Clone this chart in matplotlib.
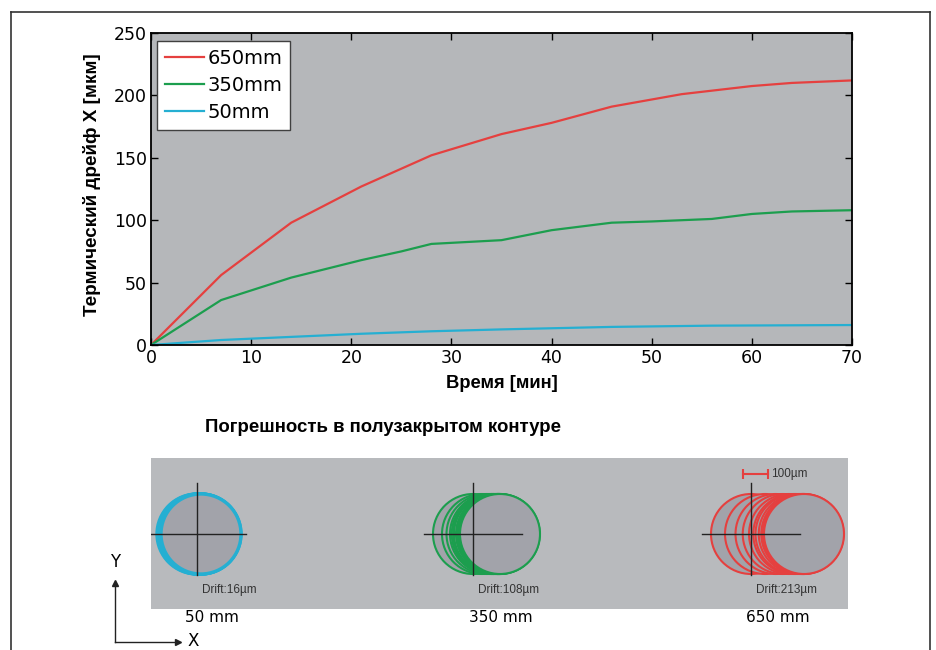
import matplotlib.pyplot as plt
from matplotlib.patches import Circle
from matplotlib.lines import Line2D

plt.rcParams['font.family'] = ['DejaVu Sans']

# drift curves (time in minutes, drift in um)
t_650 = [0, 7, 14, 21, 28, 35, 40, 46, 53, 60, 64, 70]
d_650 = [0, 56, 98, 127, 152, 169, 178, 191, 201, 207.5, 210, 212]
t_350 = [0, 7, 14, 21, 25, 28, 35, 40, 46, 50, 56, 60, 64, 70]
d_350 = [0, 36, 54, 68, 75, 81, 84, 92, 98, 99, 101, 105, 107, 108]
t_50 = [0, 7, 14, 21, 28, 35, 46, 56, 70]
d_50 = [0, 4, 6.5, 9, 11, 12.5, 14.5, 15.5, 16]

series_labels = ['650mm', '350mm', '50mm']
colors = ['#e5403f', '#1c9e4e', '#25afd2']

# lower panel
group_names = ['50 mm', '350 mm', '650 mm']
drift_text = [16, 108, 213]

W, H = 937, 650
fig = plt.figure(figsize=(W / 100, H / 100), dpi=100)

arial = ['Liberation Sans', 'DejaVu Sans']

def box(l, t, r, b):
    return [l / W, 1 - b / H, (r - l) / W, (b - t) / H]

# outer frame
for xs, ys in [([11, 11], [12, 660]), ([11, 930], [12, 12]), ([930, 930], [12, 660])]:
    fig.add_artist(Line2D([x / W for x in xs], [1 - y / H for y in ys],
                          color='#333333', lw=1.2))

ax = fig.add_axes(box(151, 33, 852, 345))
ax.set_facecolor('#b5b7ba')
for t, d, c, lab in zip([t_650, t_350, t_50], [d_650, d_350, d_50], colors, series_labels):
    ax.plot(t, d, color=c, lw=1.6, label=lab)
ax.set_xlim(0, 70)
ax.set_ylim(0, 250)
ax.set_xticks(range(0, 71, 10))
ax.set_yticks(range(0, 251, 50))
ax.tick_params(direction='in', top=True, right=True, length=5, width=1,
               labelsize=12.5, pad=3)
for s in ax.spines.values():
    s.set_linewidth(1.3)
leg = ax.legend(loc='upper left', bbox_to_anchor=(6 / 701, 1 - 8 / 312), borderaxespad=0,
                fontsize=14, handlelength=2.0, handletextpad=0.2, labelspacing=0.42,
                borderpad=0.4, fancybox=False, framealpha=1, edgecolor='#404040')
leg.get_frame().set_linewidth(1)

fig.text(92 / W, 1 - 185 / H, 'Термический дрейф X [мкм]', rotation=90,
         ha='center', va='center', fontsize=13.6, fontweight='bold', family=arial)
fig.text(502 / W, 1 - 383 / H, 'Время [мин]', ha='center', va='center',
         fontsize=13.2, fontweight='bold', family=arial)
fig.text(383 / W, 1 - 428 / H, 'Погрешность в полузакрытом контуре', ha='center',
         va='center', fontsize=13.4, fontweight='bold', family=arial)

# circles panel, data in um (0.25 px per um)
ax2 = fig.add_axes(box(151, 458, 848, 609))
ax2.set_facecolor('#b8babd')
ax2.set_xlim(0, 2788)
ax2.set_ylim(-300, 304)
ax2.set_xticks([])
ax2.set_yticks([])
for s in ax2.spines.values():
    s.set_visible(False)

R = 160
group_x = [184, 1288, 2400]
label_x = [244, 1400, 2508]
offsets = [d_50, d_350, d_650]
circle_colors = colors[::-1]
edge_w = [2.4, 1.5, 1.5]
for gx, offs, c, lw, dt, name, lx in zip(group_x, offsets, circle_colors, edge_w,
                                         drift_text, group_names, label_x):
    for o in offs:
        ax2.add_patch(Circle((gx + o, 0), R, facecolor='#a2a3aa', edgecolor=c, lw=lw))
    ax2.plot([gx - 195, gx + 195], [0, 0], color='#222222', lw=1)
    ax2.plot([gx, gx], [-162, 204], color='#222222', lw=1)
    ax2.text(gx + 20, -224, 'Drift:%dµm' % dt, fontsize=8.5, color='#333333',
             ha='left', va='center', family=arial)
    ax2.text(lx, -336, name, fontsize=11, ha='center', va='center', clip_on=False)

# scale bar
ax2.plot([2368, 2468], [240, 240], color='#e5403f', lw=1.5, marker='|', ms=7, mew=1.5)
ax2.text(2482, 240, '100µm', fontsize=8.5, color='#333333', ha='left', va='center',
         family=arial)

# axis direction sketch
fig.add_artist(Line2D([115 / W, 115 / W], [1 - 642 / H, 1 - 585 / H], color='#222222', lw=1))
fig.add_artist(Line2D([115 / W, 176 / W], [1 - 642 / H, 1 - 642 / H], color='#222222', lw=1))
fig.add_artist(Line2D([115 / W], [1 - 583 / H], marker='^', color='#222222', ms=5))
fig.add_artist(Line2D([178 / W], [1 - 642 / H], marker='>', color='#222222', ms=5))
fig.text(115 / W, 1 - 562 / H, 'Y', fontsize=12, ha='center', va='center')
fig.text(193 / W, 1 - 641 / H, 'X', fontsize=12, ha='center', va='center')

fig.savefig('out.png', dpi=100)
